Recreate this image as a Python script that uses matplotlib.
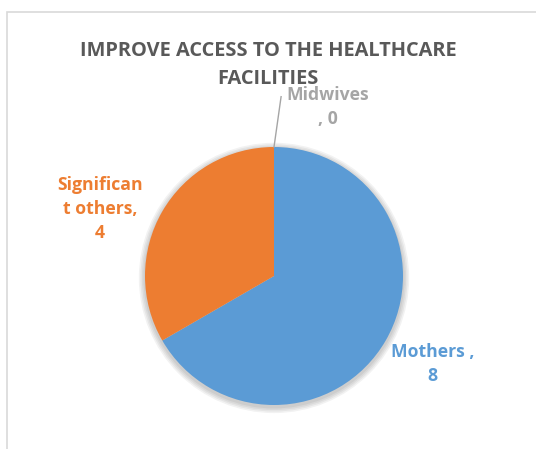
import matplotlib
matplotlib.use('Agg')
import matplotlib.pyplot as plt
from matplotlib.patches import Circle, Rectangle

# Respondent counts per group
groups = ['Mothers', 'Significant others', 'Midwives']
counts = [8, 4, 0]
colors = ['#5B9BD5', '#ED7D31', '#A5A5A5']
label_texts = ['Mothers ,\n8', 'Significan\nt others,\n4', 'Midwives\n, 0']
title = 'IMPROVE ACCESS TO THE HEALTHCARE\nFACILITIES'

W, H = 536, 449
fig = plt.figure(figsize=(W / 100, H / 100), dpi=100)
fig.patch.set_facecolor('white')

# Chart area border (runs off the right and bottom edges)
fig.add_artist(Rectangle((7 / W, -0.1), 1.2, 1 - 12 / H + 0.1,
                         transform=fig.transFigure, fill=False,
                         edgecolor='#D9D9D9', linewidth=1.2))

cx, cy, r = 274, 276, 129
ax = fig.add_axes([(cx - r) / W, (H - cy - r) / H, 2 * r / W, 2 * r / H])

# soft drop shadow under the pie
for i in range(4):
    ax.add_patch(Circle((0.0, -0.015), 1.0 + 0.012 * (4 - i), color='black',
                        alpha=0.05, lw=0, zorder=0, clip_on=False))

wedges, _ = ax.pie(counts, colors=colors, startangle=90, counterclock=False,
                   radius=1.0, wedgeprops=dict(linewidth=0))
for w in wedges:
    w.set_zorder(1)
ax.set_xlim(-1, 1)
ax.set_ylim(-1, 1)
ax.set_aspect('equal')
ax.axis('off')

font = 'Open Sans'
# data labels
label_pos = [(1.23, -0.68), (-1.35, 0.52), (0.42, 1.31)]
for text, color, (lx, ly) in zip(label_texts, colors, label_pos):
    ax.text(lx, ly, text, color=color, fontsize=12.7, fontweight='bold',
            family=font, ha='center', va='center', linespacing=1.42,
            clip_on=False, zorder=3)

# leader line to the zero-value slice
ax.plot([0.0, 0.055], [1.0, 1.39], color='#A5A5A5', lw=1, clip_on=False, zorder=2)

fig.text(268 / W, 1 - 65 / H, title, color='#595959', fontsize=14.4,
         fontweight='bold', family=font, ha='center', va='center',
         linespacing=1.5)

fig.savefig('out.png', dpi=100)
